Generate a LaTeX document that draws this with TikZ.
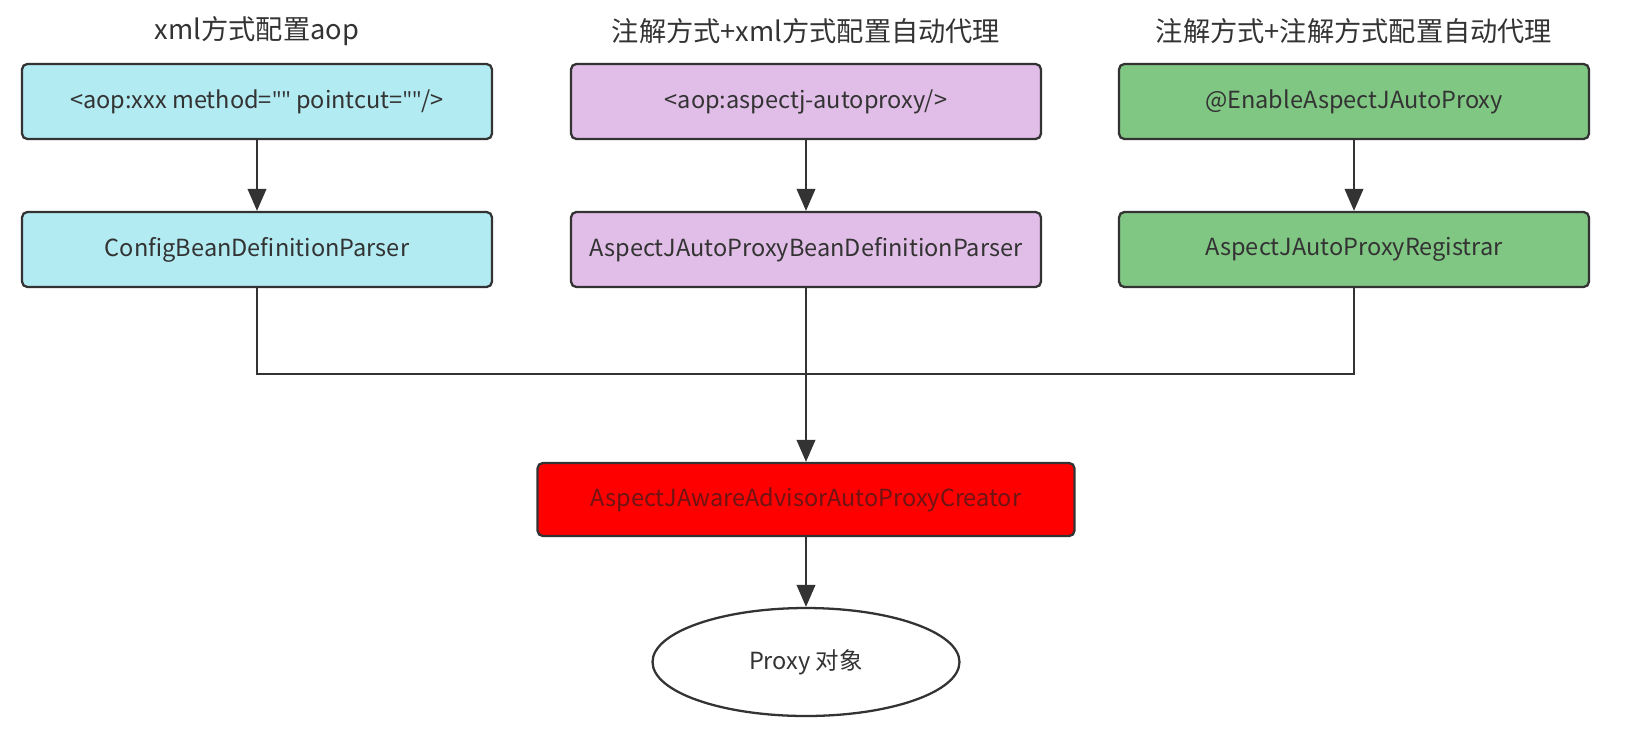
\documentclass[tikz,border=0pt]{standalone}
\usepackage{fontspec}
\setmainfont{Noto Sans CJK SC}
\newfontfamily\qtfont{Open Sans}
\usetikzlibrary{arrows.meta,shapes.geometric}
\definecolor{ink}{HTML}{333333}
\definecolor{xmlcyan}{HTML}{B2EBF2}
\definecolor{mixpurple}{HTML}{E1BEE7}
\definecolor{annogreen}{HTML}{81C784}
\definecolor{darkred}{HTML}{6E1414}

\begin{document}
\begin{tikzpicture}[x=0.02cm, y=-0.02cm, color=ink, line width=1.3pt,
	box/.style={draw=ink, rounded corners=3pt, minimum width=9.4cm, minimum height=1.5cm, font=\fontsize{13.4}{16}\selectfont},
	heading/.style={font=\fontsize{15.5}{19}\selectfont},
	arr/.style={-{Triangle[length=0.44cm, width=0.37cm]}}]
	\useasboundingbox (0,0) rectangle (1630,728);

	\node[heading] (xmltitle) at (257,31) {xml方式配置aop};
	\node[heading] (mixtitle) at (806,31) {注解方式+xml方式配置自动代理};
	\node[heading] (annotitle) at (1354,31) {注解方式+注解方式配置自动代理};

	\node[box, fill=xmlcyan] (xmlcfg) at (257,101.5) {<aop:xxx method={\qtfont""} pointcut={\qtfont""}/>};
	\node[box, fill=xmlcyan] (cfgparser) at (257,249.5) {ConfigBeanDefinitionParser};
	\node[box, fill=mixpurple] (autoproxy) at (806,101.5) {<aop:aspectj-autoproxy/>};
	\node[box, fill=mixpurple] (ajparser) at (806,249.5) {AspectJAutoProxyBeanDefinitionParser};
	\node[box, fill=annogreen] (enable) at (1354,101.5) {@EnableAspectJAutoProxy};
	\node[box, fill=annogreen] (registrar) at (1354,249.5) {AspectJAutoProxyRegistrar};

	\node[box, fill=red, text=darkred, minimum width=10.74cm, minimum height=1.46cm] (creator) at (806,499.5) {AspectJAwareAdvisorAutoProxyCreator};
	\node[ellipse, draw=ink, fill=white, minimum width=6.14cm, minimum height=2.16cm, font=\fontsize{13.4}{16}\selectfont] (proxy) at (806,662) {Proxy 对象};

	\coordinate (join) at (806,374);

	\draw[arr] (xmlcfg) -- (cfgparser);
	\draw[arr] (autoproxy) -- (ajparser);
	\draw[arr] (enable) -- (registrar);
	\draw (cfgparser.south) |- (join) -| (registrar.south);
	\draw[arr] (ajparser) -- (creator);
	\draw[arr] (creator) -- (proxy);
\end{tikzpicture}
\end{document}
